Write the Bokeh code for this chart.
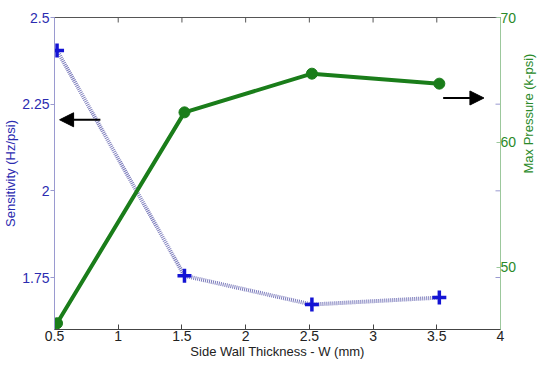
import math
from bokeh.plotting import figure
from bokeh.models import Range1d, LinearAxis, FixedTicker, Arrow, NormalHead
from bokeh.embed import file_html
from bokeh.resources import INLINE

# ---- data ----
wall_thickness = [0.52, 1.52, 2.52, 3.52]
sensitivity = [2.405, 1.755, 1.672, 1.692]
max_pressure = [45.5, 62.4, 65.5, 64.7]

x_ticks = [0.5, 1, 1.5, 2, 2.5, 3, 3.5, 4]
x_tick_labels = ["0.5", "1", "1.5", "2", "2.5", "3", "3.5", "4"]
left_ticks = [1.75, 2, 2.25, 2.5]
left_tick_labels = ["1.75", "2", "2.25", "2.5"]
right_ticks = [50, 60, 70]
right_tick_labels = ["50", "60", "70"]

X_MIN, X_MAX = 0.5, 4
S_MIN, S_MAX = 1.6, 2.5
P_MIN, P_MAX = 45, 70

BLUE_TXT = "#2b2bb0"
GREEN_TXT = "#2a8a2a"
FONT = "Liberation Sans"

p = figure(width=546, height=361, output_backend="svg", toolbar_location=None,
           x_range=Range1d(X_MIN, X_MAX), y_range=Range1d(S_MIN, S_MAX),
           min_border_left=2, min_border_right=0, min_border_top=17, min_border_bottom=0)
p.background_fill_color = "white"
p.border_fill_color = "white"
p.xgrid.visible = False
p.ygrid.visible = False
p.outline_line_color = "#555555"
p.outline_line_width = 1

p.extra_y_ranges = {"pressure": Range1d(P_MIN, P_MAX)}

# bottom axis
xa = p.xaxis[0]
xa.ticker = FixedTicker(ticks=x_ticks)
xa.major_label_overrides = {t: l for t, l in zip(x_ticks, x_tick_labels)}
xa.axis_label = "Side Wall Thickness - W (mm)"
xa.axis_label_text_font = FONT
xa.axis_label_text_font_style = "normal"
xa.axis_label_text_font_size = "13px"
xa.axis_label_text_color = "#222222"
xa.axis_label_standoff = 0
xa.major_label_text_font = FONT
xa.major_label_text_font_size = "14px"
xa.major_label_text_color = "#222222"
xa.major_label_standoff = 1
xa.axis_line_color = "#444444"
xa.major_tick_line_color = "#444444"
xa.major_tick_in = 5
xa.major_tick_out = 0
xa.minor_tick_line_color = None

# left axis
ya = p.yaxis[0]
ya.ticker = FixedTicker(ticks=left_ticks)
ya.major_label_overrides = {t: l for t, l in zip(left_ticks, left_tick_labels)}
ya.axis_label = "Sensitivity (Hz/psi)"
ya.axis_label_text_font = FONT
ya.axis_label_text_font_style = "normal"
ya.axis_label_text_font_size = "13px"
ya.axis_label_text_color = BLUE_TXT
ya.axis_label_standoff = 1
ya.major_label_text_font = FONT
ya.major_label_text_font_size = "14px"
ya.major_label_text_color = BLUE_TXT
ya.major_label_standoff = 1
ya.axis_line_color = "#9a9ad0"
ya.major_tick_line_color = "#9a9ad0"
ya.major_tick_in = 0
ya.major_tick_out = 4
ya.minor_tick_line_color = None

# right axis
ra = LinearAxis(y_range_name="pressure", ticker=FixedTicker(ticks=right_ticks))
ra.major_label_overrides = {t: l for t, l in zip(right_ticks, right_tick_labels)}
ra.axis_label = "Max Pressure (k-psi)"
ra.axis_label_orientation = math.pi / 2
ra.axis_label_text_font = FONT
ra.axis_label_text_font_style = "normal"
ra.axis_label_text_font_size = "13px"
ra.axis_label_text_color = GREEN_TXT
ra.axis_label_standoff = 9
ra.major_label_text_font = FONT
ra.major_label_text_font_size = "14px"
ra.major_label_text_color = GREEN_TXT
ra.major_label_standoff = 0
ra.axis_line_color = "#9cc89c"
ra.major_tick_line_color = "#9cc89c"
ra.major_tick_in = 4
ra.major_tick_out = 0
ra.minor_tick_line_color = None
p.add_layout(ra, "right")

# mirrored tick marks (top edge for x ticks, right edge for left-axis ticks)
p.scatter(x_ticks, [S_MAX] * len(x_ticks), marker="dash", angle=math.pi / 2, size=10,
          line_color="#555555", line_width=1)
p.scatter([X_MAX] * len(left_ticks), left_ticks, marker="dash", size=10,
          line_color="#9a9ad0", line_width=1)

# sensitivity series (dotted blue line with + markers)
p.line(wall_thickness, sensitivity, line_color="#7c7cbc", line_width=4, line_dash="1 1")
p.scatter(wall_thickness, sensitivity, marker="cross", size=14, line_color="#1414d4",
          line_width=3.5)

# pressure series (green line with circle markers)
p.line(wall_thickness, max_pressure, line_color="#1a7d1a", line_width=4, y_range_name="pressure")
p.scatter(wall_thickness, max_pressure, marker="circle", size=11, fill_color="#1a7d1a",
          line_color="#1a7d1a", y_range_name="pressure")

# arrows pointing to the axes
p.add_layout(Arrow(x_start=0.86, y_start=2.205, x_end=0.54, y_end=2.205,
                   line_color="black", line_width=2,
                   end=NormalHead(size=14, fill_color="black", line_color="black")))
p.add_layout(Arrow(x_start=3.55, y_start=63.55, x_end=3.87, y_end=63.55,
                   y_range_name="pressure", line_color="black", line_width=2,
                   end=NormalHead(size=14, fill_color="black", line_color="black")))

open("out.html", "w").write(file_html(p, INLINE))
